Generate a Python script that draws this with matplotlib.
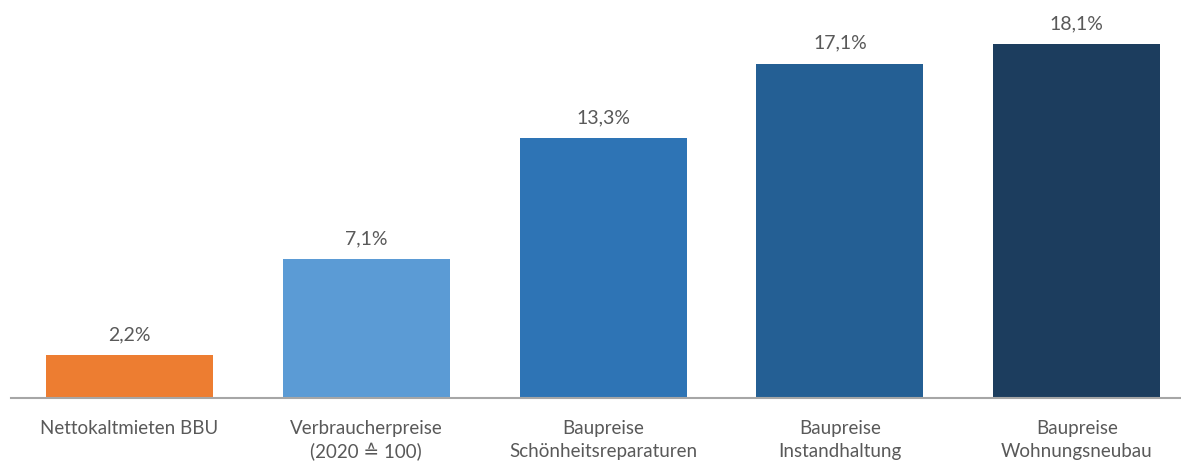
import matplotlib.pyplot as plt

# Price changes in percent
categories = [
    "Nettokaltmieten BBU",
    "Verbraucherpreise\n(2020 \u2259 100)",
    "Baupreise\nSchönheitsreparaturen",
    "Baupreise\nInstandhaltung",
    "Baupreise\nWohnungsneubau",
]
values = [2.2, 7.1, 13.3, 17.1, 18.1]
colors = ["#ED7D31", "#5B9BD5", "#2E74B5", "#245F94", "#1C3D5E"]

plt.rcParams["font.family"] = ["Lato", "DejaVu Sans"]
text_color = "#595959"

fig = plt.figure(figsize=(11.81, 4.61), dpi=100)
ax = fig.add_axes([11 / 1181, 63 / 461, 1170 / 1181, 398 / 461])

x = range(len(values))
bars = ax.bar(x, values, width=0.705, color=colors)

for bar, v in zip(bars, values):
    ax.text(
        bar.get_x() + bar.get_width() / 2,
        v + 0.6,
        f"{v:.1f}%".replace(".", ","),
        ha="center",
        va="bottom",
        fontsize=14,
        color=text_color,
    )

ax.set_xlim(-0.5, 4.44)
ax.set_ylim(0, 20.35)
ax.set_xticks(list(x))
ax.set_xticklabels(categories, fontsize=13.5, color=text_color, linespacing=1.4)
ax.tick_params(axis="x", length=0, pad=16)
ax.set_yticks([])

for side in ["top", "right", "left"]:
    ax.spines[side].set_visible(False)
ax.spines["bottom"].set_color("#A6A6A6")
ax.spines["bottom"].set_linewidth(1.5)

fig.savefig("out.png", dpi=100)
